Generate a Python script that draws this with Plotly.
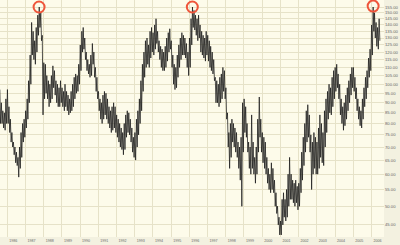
import plotly.graph_objects as go
import pandas as pd
import math

# Monthly high / low readings (Aug 1985 .. Jun 2006)
start_month = "1985-08-01"
highs = [
    97, 90, 86, 85, 92,                                          # 1985 Aug-Dec
    97, 88, 82, 76, 72, 70, 68, 66, 70, 76, 80, 82,              # 1986
    86, 92, 102, 118, 142, 135, 128, 138, 148, 155, 150, 132,    # 1987
    113, 112, 105, 102, 100, 105, 111, 108, 102, 100, 98, 102,   # 1988
    98, 96, 100, 96, 94, 92, 96, 100, 104, 106, 105, 112,        # 1989
    125, 135, 138, 130, 120, 115, 112, 118, 126, 120, 110, 104,  # 1990
    96, 92, 90, 94, 96, 95, 92, 88, 86, 88, 90, 88,              # 1991
    84, 82, 80, 78, 76, 80, 84, 86, 85, 82, 78, 74,              # 1992
    76, 82, 86, 92, 102, 112, 120, 128, 130, 125, 135, 138,      # 1993
    134, 140, 145, 135, 128, 124, 122, 120, 124, 130, 134, 137,  # 1994
    128, 118, 112, 110, 118, 125, 130, 134, 132, 130, 126, 120,  # 1995
    130, 145, 155, 152, 148, 145, 148, 140, 135, 132, 130, 135,  # 1996
    132, 128, 124, 120, 115, 104, 102, 100, 104, 106, 110, 108,  # 1997
    98, 85, 76, 80, 82, 80, 78, 76, 72, 70, 74, 90,              # 1998
    92, 88, 80, 72, 70, 84, 72, 66, 70, 82, 93, 82,              # 1999
    76, 74, 72, 66, 62, 60, 64, 62, 58, 54, 50, 47,              # 2000
    46, 52, 54, 52, 55, 60, 66, 60, 58, 57, 58, 56,              # 2001
    57, 62, 68, 74, 80, 86, 89, 84, 75, 72, 76, 74,              # 2002
    72, 78, 84, 80, 76, 86, 92, 96, 100, 98, 104, 108,           # 2003
    110, 112, 106, 100, 92, 88, 90, 94, 98, 102, 106, 110,       # 2004
    110, 104, 98, 92, 88, 86, 92, 98, 104, 108, 116, 122,        # 2005
    140, 155, 150, 142, 138, 145,                                # 2006
]
lows = [
    80, 80, 78, 77, 80,
    80, 76, 72, 70, 67, 64, 63, 59, 62, 66, 72, 74,
    78, 82, 90, 100, 118, 115, 112, 120, 132, 138, 128, 84,
    92, 95, 92, 88, 90, 92, 98, 94, 90, 88, 88, 90,
    88, 86, 88, 86, 84, 85, 86, 88, 92, 95, 96, 100,
    108, 120, 122, 115, 108, 106, 104, 105, 112, 104, 96, 92,
    86, 82, 80, 82, 84, 82, 80, 78, 76, 77, 78, 76,
    74, 72, 70, 69, 67, 69, 74, 76, 75, 72, 68, 66,
    65, 70, 75, 80, 86, 96, 104, 110, 112, 110, 116, 120,
    118, 122, 126, 120, 115, 110, 108, 108, 110, 114, 120, 122,
    110, 100, 97, 98, 104, 110, 115, 118, 118, 116, 110, 105,
    110, 125, 138, 136, 132, 128, 130, 120, 118, 116, 114, 118,
    114, 110, 108, 106, 102, 90, 90, 88, 90, 92, 96, 92,
    82, 70, 62, 66, 72, 70, 68, 66, 62, 58, 50, 68,
    76, 74, 68, 62, 60, 62, 60, 57, 60, 68, 74, 68,
    64, 62, 60, 57, 55, 54, 55, 54, 50, 48, 45, 42.5,
    42.5, 45, 47, 46, 47, 50, 52, 52, 51, 50, 51, 49,
    50, 54, 58, 63, 68, 72, 74, 68, 55, 60, 62, 60,
    60, 62, 66, 64, 63, 70, 76, 82, 85, 84, 88, 92,
    96, 98, 92, 84, 80, 77, 79, 82, 86, 90, 94, 98,
    96, 92, 86, 82, 79, 78, 82, 88, 92, 98, 104, 108,
    118, 135, 130, 124, 122, 128,
]

# circled peaks
peak_dates = ["1987-10-01", "1996-03-01", "2006-02-04"]
peak_prices = [155, 155, 155.8]

y_ticks = [45, 50, 55, 60, 65, 70, 75, 80, 85, 90, 95, 100, 105, 110, 115,
           120, 125, 130, 135, 140, 145, 150, 155]
x_range = ["1985-08-08", "2006-09-10"]
y_range = [42.0, 161.3]

months = pd.date_range(start_month, periods=len(highs), freq="MS")
xs, ys = [], []
for d, h, l in zip(months, highs, lows):
    xs += [d + pd.Timedelta(days=3), d + pd.Timedelta(days=18)]
    ys += [h, l]

fig = go.Figure()
fig.add_trace(go.Scatter(x=xs, y=ys, mode="lines",
                         line=dict(color="#1a1a1a", width=0.75),
                         hoverinfo="skip", showlegend=False))
fig.add_trace(go.Scatter(x=peak_dates, y=peak_prices, mode="markers",
                         marker=dict(symbol="circle-open", size=11,
                                     line=dict(color="#D81010", width=2)),
                         showlegend=False))

fig.update_layout(
    width=400, height=245, autosize=False,
    margin=dict(l=0, r=16, t=0, b=8),
    plot_bgcolor="#FDFBEA", paper_bgcolor="#F3F1E0",
    font=dict(family="Liberation Sans", color="#666666"),
)
fig.update_xaxes(
    type="date", range=x_range, tick0="1986-01-01", dtick="M12",
    tickformat="%Y", showgrid=True, gridcolor="#E6E2C8", gridwidth=1,
    zeroline=False, showline=False, ticks="", ticklabelshift=6,
    tickfont=dict(size=3.6, color="#666666"),
)
fig.update_yaxes(
    type="log", side="right",
    range=[math.log10(y_range[0]), math.log10(y_range[1])],
    tickvals=y_ticks, ticktext=[f"{v:.2f}" for v in y_ticks],
    showgrid=True, gridcolor="#E6E2C8", gridwidth=1,
    zeroline=False, showline=False, ticks="",
    tickfont=dict(size=4.2, color="#666666"),
)
fig.write_html("out.html")
